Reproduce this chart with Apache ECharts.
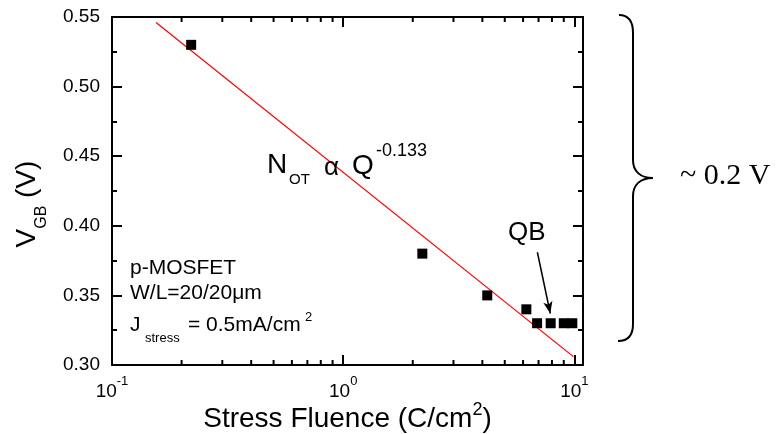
<!DOCTYPE html>
<html>
<head>
<meta charset="utf-8">
<script src="https://cdn.jsdelivr.net/npm/echarts@6/dist/echarts.min.js"></script>
<style>
  html, body { margin: 0; padding: 0; background: #fff; }
  #chart { width: 779px; height: 434px; }
</style>
</head>
<body>
<div id="chart"></div>
<script>
// measured points: stress fluence (C/cm2) and V_GB (V)
const fluence = [0.22, 2.2, 4.2, 6.2, 6.9, 7.9, 9.0, 9.8]
const vgb = [0.53, 0.38, 0.35, 0.34, 0.33, 0.33, 0.33, 0.33]

// fitted line (straight on the semi-log plot)
const fitX = [0.155, 9.9]
const fitY = [0.546, 0.306]

// axis ranges / ticks
const xMin = 0.1
const xMax = 10.9
const yTicks = [0.30, 0.35, 0.40, 0.45, 0.50, 0.55]
const minorX = [0.2, 0.3, 0.4, 0.5, 0.6, 0.7, 0.8, 0.9, 2, 3, 4, 5, 6, 7, 8, 9]

// QB arrow, tail and head
const qbFrom = [6.92, 0.381]
const qbTo = [7.87, 0.337]

const yMin = yTicks[0]
const yMax = yTicks[yTicks.length - 1]
const FONT = 'Liberation Sans, Arial, sans-serif'

const myChart = echarts.init(document.getElementById('chart'))

const frameX = {
  type: 'log',
  min: xMin,
  max: xMax,
  logBase: 10,
  axisLine: { lineStyle: { color: '#000', width: 2 } },
  axisTick: { inside: true, length: 10, lineStyle: { color: '#000', width: 2 } },
  splitLine: { show: false }
}
const frameY = {
  type: 'value',
  min: yMin,
  max: yMax,
  interval: 0.05,
  axisLine: { show: true, lineStyle: { color: '#000', width: 2 } },
  axisTick: { show: true, inside: true, length: 10, lineStyle: { color: '#000', width: 2 } },
  minorTick: { show: true, splitNumber: 2, length: 5, lineStyle: { color: '#000', width: 2 } },
  splitLine: { show: false }
}

const txt = (text, x, y, size, extra) => ({
  type: 'text', x: x, y: y, z: 20,
  style: Object.assign({
    text: text, fontSize: size, fontFamily: FONT, fill: '#000',
    align: 'left', verticalAlign: 'middle'
  }, extra || {})
})
const braceStyle = { stroke: '#000', lineWidth: 2, fill: null }
const curve = (x1, y1, c1x, c1y, c2x, c2y, x2, y2) => ({
  type: 'bezierCurve', z: 20,
  shape: { x1: x1, y1: y1, cpx1: c1x, cpy1: c1y, cpx2: c2x, cpy2: c2y, x2: x2, y2: y2 },
  style: braceStyle
})
const seg = (x1, y1, x2, y2) => ({
  type: 'line', z: 20, shape: { x1: x1, y1: y1, x2: x2, y2: y2 }, style: braceStyle
})

const option = {
  animation: false,
  backgroundColor: '#fff',
  grid: { left: 112, right: 196, top: 17, bottom: 69, outerBoundsMode: 'none', containLabel: false },
  xAxis: [
    Object.assign({}, frameX, {
      position: 'bottom',
      name: '{a|Stress Fluence (C/cm}{p|2}{a|)}',
      nameLocation: 'middle',
      nameGap: 36,
      nameMoveOverlap: false,
      nameTextStyle: {
        color: '#000', fontFamily: FONT,
        rich: {
          a: { fontSize: 28, lineHeight: 32, verticalAlign: 'bottom', fontFamily: FONT, color: '#000' },
          p: { fontSize: 18, lineHeight: 18, verticalAlign: 'top', fontFamily: FONT, color: '#000' }
        }
      },
      axisLabel: {
        margin: 10,
        formatter: function (v) {
          const e = Math.log10(v)
          if (Math.abs(e - Math.round(e)) > 1e-6) return ''
          return '{b|10}{p|' + Math.round(e) + '}'
        },
        rich: {
          b: { fontSize: 19, lineHeight: 26, verticalAlign: 'bottom', fontFamily: FONT, color: '#000' },
          p: { fontSize: 13, lineHeight: 13, verticalAlign: 'top', fontFamily: FONT, color: '#000' }
        }
      }
    }),
    Object.assign({}, frameX, {
      position: 'top',
      axisLabel: { show: false }
    })
  ],
  yAxis: [
    Object.assign({}, frameY, {
      position: 'left',
      name: '{v|V}{s|GB}{v| (V)}',
      nameLocation: 'middle',
      nameRotate: 90,
      nameGap: 62,
      nameMoveOverlap: false,
      nameTextStyle: {
        color: '#000', fontFamily: FONT,
        padding: [0, 26, 0, 0],
        rich: {
          v: { fontSize: 28, lineHeight: 37, verticalAlign: 'top', fontFamily: FONT, color: '#000' },
          s: { fontSize: 16, lineHeight: 37, verticalAlign: 'bottom', fontFamily: FONT, color: '#000' }
        }
      },
      axisLabel: {
        margin: 12, fontSize: 19, fontFamily: FONT, color: '#000',
        formatter: v => v.toFixed(2)
      }
    }),
    Object.assign({}, frameY, {
      position: 'right',
      axisLabel: { show: false }
    })
  ],
  series: [
    {
      name: 'fit',
      type: 'line',
      data: fitX.map((x, i) => [x, fitY[i]]),
      symbol: 'none',
      lineStyle: { color: '#ff0000', width: 1.2 },
      z: 3
    },
    {
      name: 'V_GB',
      type: 'scatter',
      data: fluence.map((x, i) => [x, vgb[i]]),
      symbol: 'rect',
      symbolSize: 10,
      itemStyle: { color: '#000', opacity: 1 },
      z: 4,
      markLine: {
        silent: true,
        label: { show: false },
        lineStyle: { color: '#000', width: 1.5, type: 'solid' },
        data: [[
          { coord: qbFrom, symbol: 'none' },
          { coord: qbTo, symbol: 'arrow', symbolSize: [7, 12] }
        ]]
      }
    },
    {
      // minor ticks of the log axes (bottom and top)
      type: 'custom',
      silent: true,
      data: minorX.map(x => [x, yMin]),
      encode: { x: 0, y: 1 },
      renderItem: function (params, api) {
        const b = api.coord([api.value(0), yMin])
        const t = api.coord([api.value(0), yMax])
        return {
          type: 'group',
          children: [
            { type: 'line', shape: { x1: b[0], y1: b[1], x2: b[0], y2: b[1] - 5 }, style: { stroke: '#000', lineWidth: 2 } },
            { type: 'line', shape: { x1: t[0], y1: t[1], x2: t[0], y2: t[1] + 5 }, style: { stroke: '#000', lineWidth: 2 } }
          ]
        }
      },
      z: 5
    }
  ],
  graphic: [
    // fit law
    txt('N', 267, 165, 28),
    txt('OT', 289, 180, 15),
    txt('α', 324, 168, 26),
    txt('Q', 352, 166, 28),
    txt('-0.133', 376, 151, 18),
    // QB label
    txt('QB', 508, 233, 26),
    // device info
    txt('p-MOSFET', 130, 268, 21),
    txt('W/L=20/20μm', 130, 293, 21),
    txt('J', 130, 325, 21),
    txt('stress', 145, 338, 13),
    txt('= 0.5mA/cm', 188, 325, 21),
    txt('2', 305, 317, 13),
    // brace and range note
    curve(619, 15, 628, 15, 633, 21, 633, 33),
    seg(633, 33, 633, 160),
    curve(633, 160, 633, 171, 640, 178, 653, 178),
    curve(653, 178, 640, 178, 633, 185, 633, 196),
    seg(633, 196, 633, 324),
    curve(633, 324, 633, 335, 628, 341, 618, 341),
    txt('~ 0.2 V', 680, 176, 30, { fontFamily: 'Liberation Serif, Times New Roman, serif' })
  ]
}

myChart.setOption(option)
</script>
</body>
</html>
